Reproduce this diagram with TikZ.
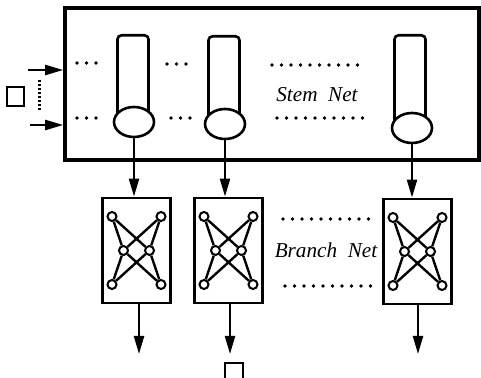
\documentclass[tikz,border=0pt]{standalone}
\usepackage{fontspec}
\setmainfont{Liberation Serif}
\usetikzlibrary{arrows.meta,positioning,calc,shapes.geometric}

\begin{document}
\begin{tikzpicture}[
  x=0.5pt, y=-0.5pt,
  frame/.style={draw, line width=1.8pt, minimum width=207pt, minimum height=76pt, inner sep=0pt},
  stembody/.style={draw, line width=1.3pt, rounded corners=2pt, fill=white, minimum width=15.5pt, minimum height=45pt, inner sep=0pt, anchor=north},
  stemend/.style={draw, ellipse, line width=1.3pt, fill=white, minimum width=20pt, minimum height=15pt, inner sep=0pt},
  branch/.style={draw, line width=1.4pt, minimum width=34pt, minimum height=52.5pt, inner sep=0pt},
  unit/.style={draw, circle, line width=1pt, fill=white, minimum size=4.5pt, inner sep=0pt},
  link/.style={line width=1.2pt},
  smallbox/.style={draw, line width=0.7pt, minimum width=8.5pt, minimum height=9.5pt, inner sep=0pt},
  arr/.style={-{Triangle[length=9pt, width=5pt]}, line width=1.1pt},
  dotrow/.style={line width=1.8pt, line cap=round, dash pattern=on 0pt off 4.75pt},
  densedots/.style={line width=1.5pt, dash pattern=on 1pt off 1pt},
  lbl/.style={font=\fontsize{10.6}{12}\selectfont\itshape, inner sep=0pt}
]
  \useasboundingbox (0,0) rectangle (481,378);
  \clip (0,0) rectangle (481,378);

  % stem net
  \node[frame] (stem) at (272,84) {};
  \node[stembody] (cyl1) at (133,34) {};
  \node[stembody] (cyl2) at (224,35) {};
  \node[stembody] (cyl3) at (410,34) {};
  \node[stemend] (ell1) at (134,122) {};
  \node[stemend] (ell2) at (225,124) {};
  \node[stemend] (ell3) at (412,128) {};
  \node[lbl] (stemlbl) at (317,95) {Stem\enspace Net};

  \draw[dotrow] (77,63) -- (96.2,63);  \draw[dotrow] (167,64) -- (186.2,64);  \draw[dotrow] (272,65) -- (357.7,65);
  \draw[dotrow] (77,118) -- (96.2,118); \draw[dotrow] (171,118) -- (190.2,118); \draw[dotrow] (277,118) -- (362.7,118);

  % inputs
  \node[smallbox] (inbox) at (15.5,96.5) {};
  \coordinate (in1) at (28,70);
  \coordinate (in2) at (30,125);
  \draw[arr] (in1) -- (in1 -| stem.west);
  \draw[arr] (in2) -- (in2 -| stem.west);
  \draw[densedots] (39,80) -- (39,112);

  % branch net
  \node[branch] (br1) at (136.5,250.5) {};
  \node[branch] (br2) at (228.5,250.5) {};
  \node[branch] (br3) at (417.5,251.5) {};
  \node[lbl] (brlbl) at (326,250) {Branch\enspace Net};
  \draw[dotrow] (283,219) -- (368.7,219);
  \draw[dotrow] (285,286) -- (370.7,286);

  \foreach \b in {br1,br2,br3}{
    \begin{scope}[shift={(\b.center)}]
      \node[unit] (\b-a) at (-24.5,-34) {};
      \node[unit] (\b-b) at (24.5,-34) {};
      \node[unit] (\b-c) at (-13,0) {};
      \node[unit] (\b-d) at (13,0) {};
      \node[unit] (\b-e) at (-24.5,34) {};
      \node[unit] (\b-f) at (24.5,34) {};
    \end{scope}
    \draw[link] (\b-a) -- (\b-c) (\b-a) -- (\b-d) (\b-b) -- (\b-c) (\b-b) -- (\b-d);
    \draw[link] (\b-c) -- (\b-e) (\b-c) -- (\b-f) (\b-d) -- (\b-e) (\b-d) -- (\b-f);
  }

  \draw[arr] (ell1.south) -- (ell1.south |- br1.north);
  \draw[arr] (ell2.south) -- (ell2.south |- br2.north);
  \draw[arr] (ell3.south) -- (ell3.south |- br3.north);

  % outputs
  \coordinate (out1) at (139,354);
  \coordinate (out2) at (230,354);
  \coordinate (out3) at (418,354);
  \draw[arr] (out1 |- br1.south) -- (out1);
  \draw[arr] (out2 |- br2.south) -- (out2);
  \draw[arr] (out3 |- br3.south) -- (out3);
  \node[smallbox, minimum width=9pt, minimum height=9pt] (outbox) at (234,372) {};
\end{tikzpicture}
\end{document}
